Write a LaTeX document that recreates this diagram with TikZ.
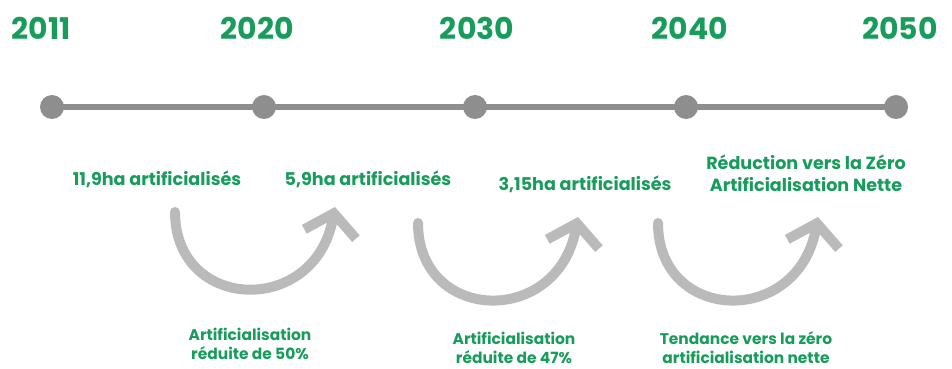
\documentclass[tikz,border=0pt]{standalone}
\usepackage{fontspec}
\setmainfont{Poppins}
\usetikzlibrary{arrows.meta}
\definecolor{vert}{RGB}{24,156,92}
\definecolor{gristrait}{RGB}{142,142,142}
\definecolor{grisfleche}{RGB}{186,186,186}
\tikzset{
	annee/.style={text=vert,font=\bfseries\fontsize{17}{20}\selectfont,inner sep=0pt},
	jalon/.style={circle,fill=gristrait,minimum size=0.48cm,inner sep=0pt},
	surface/.style={text=vert,font=\bfseries\fontsize{10}{12.5}\selectfont,align=center,inner sep=0pt},
	tendance/.style={text=vert,font=\bfseries\fontsize{8.8}{10.8}\selectfont,align=center,inner sep=0pt},
	fleche/.style={draw=grisfleche,line width=0.2cm,-{Straight Barb[length=0.42cm,width=1.05cm,line cap=butt,line join=miter]}}
}
\begin{document}
\begin{tikzpicture}[line cap=round,line join=round,x=0.02cm,y=-0.02cm]
		\useasboundingbox (0,0) rectangle (952,368);
		% annees
		\node[annee] (y2011) at (41,28) {2011};
		\node[annee] (y2020) at (257,28) {2020};
		\node[annee] (y2030) at (477,28) {2030};
		\node[annee] (y2040) at (690,28) {2040};
		\node[annee] (y2050) at (900,28) {2050};
		% frise
		\node[jalon] (d2011) at (52,107) {};
		\node[jalon] (d2020) at (264,107) {};
		\node[jalon] (d2030) at (475,107) {};
		\node[jalon] (d2040) at (686,107) {};
		\node[jalon] (d2050) at (896,107) {};
		\draw [line width=0.14cm,gristrait] (d2011.center)-- (d2020.center)-- (d2030.center)-- (d2040.center)-- (d2050.center);
		% surfaces artificialisees
		\node[surface] (s2011) at (157,179) {11,9ha artificialisés};
		\node[surface] (s2020) at (368,179) {5,9ha artificialisés};
		\node[surface] (s2030) at (585,184) {3,15ha artificialisés};
		\node[surface] (s2050) at (806,173) {Réduction vers la Zéro\\Artificialisation Nette};
		% fleches
		\coordinate (a1) at (175,212);
		\coordinate (b1) at (335,207);
		\coordinate (a2) at (418,223);
		\coordinate (b2) at (578,217);
		\coordinate (a3) at (658,223);
		\coordinate (b3) at (818,217);
		\draw [fleche] (a1) .. controls (175,312) and (315,317) .. (b1);
		\draw [fleche] (a2) .. controls (418,323) and (558,328) .. (b2);
		\draw [fleche] (a3) .. controls (658,323) and (798,328) .. (b3);
		% reductions
		\node[tendance] (t1) at (250,344) {Artificialisation\\réduite de 50\%};
		\node[tendance] (t2) at (514,348) {Artificialisation\\réduite de 47\%};
		\node[tendance] (t3) at (746,348) {Tendance vers la zéro\\artificialisation nette};
	\end{tikzpicture}
\end{document}
